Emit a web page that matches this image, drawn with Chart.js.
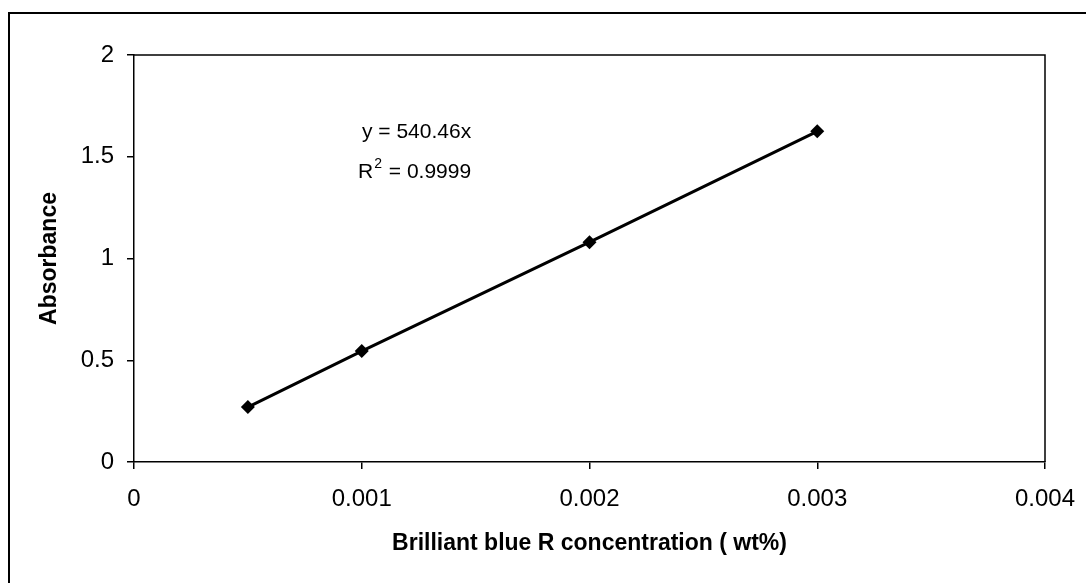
<!DOCTYPE html>
<html lang="en">

<head>
    <meta charset="UTF-8">
    <script src="https://cdn.jsdelivr.net/npm/chart.js"></script>
    <title>Absorbance calibration</title>
    <style>
        html, body { margin: 0; padding: 0; background: #fff; }
        #wrap { position: relative; width: 1086px; height: 583px; overflow: hidden; }
        #frame { position: absolute; left: 8px; top: 12px; width: 1200px; height: 700px;
                 border-top: 2px solid #000; border-left: 2px solid #000; }
        canvas { position: absolute; left: 0; top: 0; }
    </style>
</head>

<body>
    <div id="wrap">
        <div id="frame"></div>
        <canvas id="calChart" width="1086" height="583"></canvas>
    </div>
    <script>
        // values
        const concentration = [0.0005, 0.001, 0.002, 0.003];
        const absorbance = [0.27, 0.545, 1.08, 1.625];
        const xTicks = [0, 0.001, 0.002, 0.003, 0.004];
        const yTicks = [0, 0.5, 1, 1.5, 2];
        const equationLines = ["y = 540.46x", "R\u00b2 = 0.9999"];

        const points = concentration.map((c, i) => ({ x: c, y: absorbance[i] }));

        // box round the plot area plus the trendline label
        const plotBox = {
            id: "plotBox",
            afterDraw(chart) {
                const { ctx, chartArea } = chart;
                ctx.save();
                ctx.strokeStyle = "#000";
                ctx.lineWidth = 1.5;
                ctx.beginPath();
                ctx.moveTo(chartArea.left, chartArea.top);
                ctx.lineTo(chartArea.right, chartArea.top);
                ctx.lineTo(chartArea.right, chartArea.bottom);
                ctx.stroke();

                ctx.fillStyle = "#000";
                ctx.font = "21px 'Liberation Sans', Arial, sans-serif";
                ctx.textBaseline = "middle";
                ctx.textAlign = "left";
                ctx.fillText(equationLines[0], 362, 132);
                ctx.fillText("R", 358, 172);
                const rw = ctx.measureText("R").width;
                ctx.font = "14px 'Liberation Sans', Arial, sans-serif";
                ctx.fillText("2", 358 + rw + 1, 164);
                const sw = ctx.measureText("2").width;
                ctx.font = "21px 'Liberation Sans', Arial, sans-serif";
                ctx.fillText(equationLines[1].slice(2), 358 + rw + sw + 2, 172);
                ctx.restore();
            }
        };

        const tickFont = { family: "'Liberation Sans', Arial, sans-serif", size: 24 };
        const titleFont = { family: "'Liberation Sans', Arial, sans-serif", size: 23, weight: "bold" };

        new Chart(document.getElementById("calChart"), {
            type: "scatter",
            data: {
                datasets: [{
                    label: "Absorbance",
                    data: points,
                    showLine: true,
                    borderColor: "#000",
                    borderWidth: 3,
                    backgroundColor: "#000",
                    pointStyle: "rectRot",
                    pointRadius: 7,
                    pointBorderWidth: 0
                }]
            },
            options: {
                responsive: false,
                animation: false,
                layout: { padding: { top: 55, right: 41, left: 0, bottom: 0 } },
                plugins: {
                    legend: { display: false },
                    tooltip: { enabled: false }
                },
                scales: {
                    x: {
                        type: "linear",
                        min: 0,
                        max: 0.004,
                        afterBuildTicks: s => { s.ticks = xTicks.map(v => ({ value: v })); },
                        afterFit: s => { s.height = 121; s.paddingLeft = 0; s.paddingRight = 0; },
                        border: { display: true, color: "#000", width: 1.5 },
                        grid: { drawOnChartArea: false, drawTicks: true, tickLength: 7, color: "#000", lineWidth: 1.5 },
                        ticks: {
                            color: "#000",
                            font: tickFont,
                            padding: 16,
                            maxRotation: 0,
                            callback: v => String(parseFloat(v.toFixed(4)))
                        },
                        title: {
                            display: true,
                            text: "Brilliant blue R concentration ( wt%)",
                            color: "#000",
                            font: titleFont,
                            padding: { top: 0, bottom: 26 }
                        }
                    },
                    y: {
                        min: 0,
                        max: 2,
                        afterBuildTicks: s => { s.ticks = yTicks.map(v => ({ value: v })); },
                        afterFit: s => { s.width = 134; s.paddingTop = 0; s.paddingBottom = 0; },
                        border: { display: true, color: "#000", width: 1.5 },
                        grid: { drawOnChartArea: false, drawTicks: true, tickLength: 7, color: "#000", lineWidth: 1.5 },
                        ticks: {
                            color: "#000",
                            font: tickFont,
                            padding: 13,
                            callback: v => String(parseFloat(v.toFixed(2)))
                        },
                        title: {
                            display: true,
                            text: "Absorbance",
                            color: "#000",
                            font: titleFont,
                            padding: { top: 36, bottom: 0 }
                        }
                    }
                }
            },
            plugins: [plotBox]
        });
    </script>
</body>

</html>
